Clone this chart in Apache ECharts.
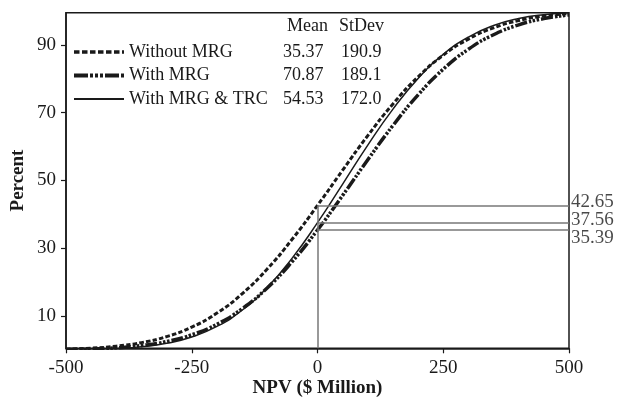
<!DOCTYPE html>
<html>
<head>
<meta charset="utf-8">
<script src="https://cdn.jsdelivr.net/npm/echarts@6/dist/echarts.min.js"></script>
<style>html,body{margin:0;padding:0;background:#fff}#c{width:618px;height:397px}</style>
</head>
<body>
<div id="c"></div>
<script>
// NPV grid (x values, $ Million)
const npv = [-500,-450,-400,-350,-300,-250,-200,-150,-100,-50,0,50,100,150,200,250,300,350,400,450,500];
// cumulative percent
const withoutMRG = [0.25,0.55,1.13,2.18,3.95,6.75,10.88,16.58,23.91,32.74,42.65,53.05,63.25,72.59,80.58,86.96,91.72,95.03,97.19,98.51,99.25];
const withMRG = [0.13,0.29,0.64,1.30,2.49,4.49,7.60,12.14,18.31,26.14,35.39,45.61,56.12,66.22,75.27,82.83,88.72,93.00,95.91,97.75,98.84];
const withMRGTRC = [0.06,0.17,0.41,0.93,1.96,3.83,6.95,11.72,18.45,27.17,37.56,48.95,60.43,71.06,80.12,87.21,92.32,95.71,97.77,98.93,99.52];
const seriesNames = ['Without MRG','With MRG','With MRG & TRC'];
const meanLabels = ['35.37','70.87','54.53'];
const sdLabels = ['190.9','189.1','172.0'];
const refValues = [42.65, 37.56, 35.39];
const refLabels = ['42.65','37.56','35.39'];
const yTicks = [10,30,50,70,90];
const xTicks = [-500,-250,0,250,500];

const FONT = "'Liberation Serif','DejaVu Serif',serif";
const INK = '#1a1a1a';
const zip = (ys) => npv.map((x,i)=>[x, ys[i]]);

const styles = [
  {color:INK, width:3, type:[4.5,2.2]},
  {color:INK, width:3.5, type:[12,2,2.5,1.5,2.5,1.5,2.5,2]},
  {color:INK, width:1.5, type:'solid'}
];
const legendStyles = [
  {color:INK, width:3.5, type:[5.5,2.5]},
  {color:INK, width:4, type:[14,2,3,2,3,2,3,2]},
  {color:INK, width:1.8, type:'solid'}
];

const chart = echarts.init(document.getElementById('c'), null, {renderer:'canvas'});

const rowY = [50.5, 74, 97.5];
const graphics = [
  {type:'text', left:287, top:25-7.5, style:{text:'Mean', font:'18px '+FONT, fill:INK}},
  {type:'text', left:339, top:25-7.5, style:{text:'StDev', font:'18px '+FONT, fill:INK}}
];
meanLabels.forEach((t,i)=>graphics.push({type:'text', left:283, top:rowY[i]-7.5, style:{text:t, font:'18px '+FONT, fill:INK}}));
sdLabels.forEach((t,i)=>graphics.push({type:'text', left:341, top:rowY[i]-7.5, style:{text:t, font:'18px '+FONT, fill:INK}}));

const refLineData = [[{coord:[0,0.5]},{coord:[0,refValues[0]]}]];
refValues.forEach(v=>refLineData.push([{coord:[0,v]},{coord:[500,v]}]));
const labelOffsets = [[0,-3.5],[0,-2.5],[0,7.5]];

chart.setOption({
  animation:false,
  backgroundColor:'#fff',
  textStyle:{fontFamily:FONT},
  grid:{left:66, right:49, top:12.7, bottom:48.7, show:true, borderColor:INK, borderWidth:1.5, outerBoundsMode:'none', containLabel:false},
  legend:{
    data:seriesNames.map((n,i)=>({name:n, lineStyle:legendStyles[i]})),
    orient:'vertical', left:72, top:43, padding:0,
    itemWidth:50, itemHeight:10, itemGap:5.5,
    itemStyle:{opacity:0, borderWidth:0},
    textStyle:{fontFamily:FONT, fontSize:18, color:INK, lineHeight:18}
  },
  xAxis:{
    type:'value', min:-500, max:500, interval:250,
    name:'NPV ($ Million)', nameLocation:'middle', nameGap:30, nameMoveOverlap:false,
    nameTextStyle:{fontFamily:FONT, fontSize:19, fontWeight:'bold', color:INK},
    axisLine:{show:true, onZero:false, lineStyle:{color:INK, width:1.5}},
    axisTick:{show:true, length:5, lineStyle:{color:INK, width:1.2}},
    axisLabel:{fontFamily:FONT, fontSize:19, color:INK, margin:10},
    splitLine:{show:false}
  },
  yAxis:{
    type:'value', min:0.5, max:99.5,
    name:'Percent', nameLocation:'middle', nameGap:38, nameMoveOverlap:false,
    nameTextStyle:{fontFamily:FONT, fontSize:19, fontWeight:'bold', color:INK},
    axisLine:{show:true, onZero:false, lineStyle:{color:INK, width:1.5}},
    axisTick:{show:true, length:5, customValues:yTicks, lineStyle:{color:INK, width:1.2}},
    axisLabel:{fontFamily:FONT, fontSize:19, color:INK, margin:10, customValues:yTicks},
    splitLine:{show:false}
  },
  graphic:graphics,
  series:[
    {name:seriesNames[0], type:'line', data:zip(withoutMRG), smooth:true, symbol:'none',
     color:INK, lineStyle:styles[0], z:3,
     markLine:{silent:true, symbol:'none', label:{show:false}, lineStyle:{color:'#777', width:1.5, type:'solid'}, data:refLineData}},
    {name:seriesNames[1], type:'line', data:zip(withMRG), smooth:true, symbol:'none',
     color:INK, lineStyle:styles[1], z:3},
    {name:seriesNames[2], type:'line', data:zip(withMRGTRC), smooth:true, symbol:'none',
     color:INK, lineStyle:styles[2], z:3},
    {name:'refLabels', type:'scatter', symbolSize:0, clip:false, silent:true,
     data:refValues.map((v,i)=>({value:[500,v], label:{offset:labelOffsets[i]}})),
     label:{show:true, position:'right', distance:2, fontFamily:FONT, fontSize:19, color:INK,
       formatter:(p)=>refLabels[p.dataIndex]}}
  ]
});
</script>
</body>
</html>
